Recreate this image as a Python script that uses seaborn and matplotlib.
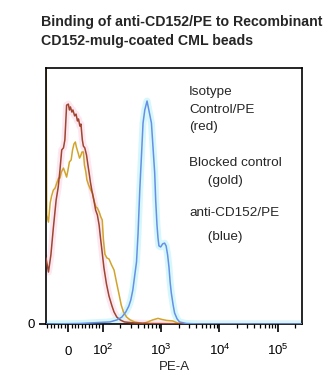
import matplotlib
matplotlib.use("Agg")
import matplotlib.pyplot as plt
import seaborn as sns
import pandas as pd
from matplotlib.ticker import FixedLocator, FixedFormatter

# ---------------- data (PE-A value, % of max) ----------------
red_x = [-63, -56, -49, -42, -34, -28, -23, -18, -13, -9, -4, 1, 4, 7, 11, 14, 19, 23, 27, 30,
         34, 37, 41, 44, 48, 53, 57, 60, 64, 69, 74, 79, 84, 89, 93, 97, 104, 115, 127, 143,
         155, 173, 198, 234, 352, 636, 4550, 262144]
red_y = [25.8, 20.3, 27.0, 37.5, 48.4, 53.5, 60.2, 68.0, 68.8, 71.9, 85.5, 85.9, 83.6, 84.8, 82.8,
         83.6, 81.3, 82.0, 79.3, 80.1, 77.3, 78.1, 71.9, 69.5, 68.8, 66.0, 62.1, 59.4, 55.5, 51.6,
         48.4, 44.5, 42.6, 38.7, 33.6, 28.9, 21.9, 15.6, 10.9, 7.0, 4.7, 2.7, 1.6, 0.8, 0.4, 0.2,
         0.0, 0.0]

gold_x = [-63, -61, -56, -51, -47, -42, -37, -32, -27, -23, -19, -13, -9, -4, 0, 4, 9, 13, 17, 21,
          24, 29, 33, 36, 40, 44, 47, 51, 54, 59, 65, 70, 74, 80, 84, 89, 94, 98, 102, 108,
          117, 127, 141, 155, 172, 187, 206, 225, 255, 293, 350, 482, 587, 715, 882, 1020,
          1242, 1574, 1916, 2522, 262144]
gold_y = [120.0, 42.6, 39.8, 47.3, 50.0, 52.3, 53.1, 55.1, 57.0, 57.0, 59.4, 60.9, 59.4, 57.4, 60.2,
          63.3, 64.1, 68.0, 70.3, 71.1, 69.1, 66.8, 64.8, 65.6, 67.2, 67.2, 62.1, 59.4, 56.3, 54.3,
          52.3, 51.2, 48.4, 45.7, 45.3, 43.8, 41.8, 40.6, 32.8, 27.3, 25.8, 25.4, 23.0, 21.1, 16.0,
          12.1, 7.4, 4.7, 2.7, 1.6, 0.8, 0.2, 0.8, 1.6, 2.2, 1.8, 1.4, 1.2, 0.4, 0.0, 0.0]

blue_x = [-63, 34, 91, 131, 174, 211, 247, 278, 301, 326, 352, 377, 401, 429, 455, 488, 523, 572,
          624, 680, 729, 774, 805, 847, 882, 916, 980, 1061, 1146, 1216, 1290, 1360, 1425, 1493,
          1605, 1700, 1877, 2070, 2697, 4550, 262144]
blue_y = [0.0, 0.2, 0.6, 0.8, 1.6, 2.7, 4.7, 7.0, 9.4, 13.3, 19.1, 24.2, 35.5, 52.3, 64.1, 78.5,
          83.6, 87.1, 82.8, 78.5, 68.0, 59.0, 48.4, 38.7, 33.6, 30.5, 30.1, 31.3, 31.6, 30.5, 27.0,
          22.3, 16.4, 12.1, 7.4, 4.3, 2.0, 0.8, 0.2, 0.0, 0.0]

xtick_values = [0, 100, 1000, 10000, 100000]
xtick_labels = ["0", r"$\mathregular{10^2}$", r"$\mathregular{10^3}$",
                r"$\mathregular{10^4}$", r"$\mathregular{10^5}$"]
xminor_values = [-60, -50, -40, -30, -20, -10, 10, 20, 30, 40, 50, 60, 70, 80, 90,
                 200, 300, 400, 500, 600, 700, 800, 900,
                 2000, 3000, 4000, 5000, 6000, 7000, 8000, 9000,
                 20000, 30000, 40000, 50000, 60000, 70000, 80000, 90000, 200000]

title_lines = ["Binding of anti-CD152/PE to Recombinant", "CD152-muIg-coated CML beads"]
legend_lines = ["Isotype", "Control/PE", "(red)", "Blocked control", "     (gold)",
                "anti-CD152/PE", "     (blue)"]
xlabel = "PE-A"

# ---------------- style ----------------
sns.set_style("white")
plt.rcParams["font.family"] = ["Liberation Sans", "DejaVu Sans"]
plt.rcParams["mathtext.fontset"] = "custom"
plt.rcParams["mathtext.rm"] = "Liberation Sans"
plt.rcParams["mathtext.it"] = "Liberation Sans"
plt.rcParams["mathtext.bf"] = "Liberation Sans:bold"

W, H = 330, 376
fig = plt.figure(figsize=(W / 100, H / 100), dpi=100)
ax = fig.add_axes([46 / W, 1 - 324 / H, 256 / W, 256 / H])

red_df = pd.DataFrame({"x": red_x, "y": red_y})
gold_df = pd.DataFrame({"x": gold_x, "y": gold_y})
blue_df = pd.DataFrame({"x": blue_x, "y": blue_y})

# glows
sns.lineplot(data=red_df, x="x", y="y", ax=ax, color="#fde8f1", lw=5, sort=False,
             estimator=None, zorder=1)
sns.lineplot(data=blue_df, x="x", y="y", ax=ax, color="#d6f7fc", lw=5, sort=False,
             estimator=None, zorder=1)
# lines
sns.lineplot(data=red_df, x="x", y="y", ax=ax, color="#9e4630", lw=1.1, sort=False,
             estimator=None, zorder=3)
sns.lineplot(data=gold_df, x="x", y="y", ax=ax, color="#d2a42c", lw=1.1, sort=False,
             estimator=None, zorder=2)
sns.lineplot(data=blue_df, x="x", y="y", ax=ax, color="#6690e4", lw=1.1, sort=False,
             estimator=None, zorder=4)

ax.set_xscale("symlog", linthresh=100, linscale=0.54)
ax.set_xlim(-63, 262144)
ax.set_ylim(0, 100)

ax.xaxis.set_major_locator(FixedLocator(xtick_values))
ax.xaxis.set_major_formatter(FixedFormatter(xtick_labels))
ax.xaxis.set_minor_locator(FixedLocator(xminor_values))
ax.set_yticks([0])
ax.set_yticklabels(["0"])

ax.tick_params(axis="x", which="both", bottom=True, top=False)
ax.tick_params(axis="y", which="both", left=True, right=False)
ax.tick_params(axis="x", which="major", direction="out", length=6, width=1.2,
               labelsize=9.5, pad=16, colors="black")
ax.tick_params(axis="x", which="minor", direction="out", length=3, width=0.9, colors="black")
ax.tick_params(axis="y", which="major", direction="out", length=5, width=1.2,
               labelsize=9.5, pad=3, colors="black")
for t in ax.xaxis.get_major_ticks():
    t.label1.set_va("baseline")

ax.set_xlabel(xlabel, fontsize=9.5, labelpad=2.5)
ax.set_ylabel("")

for s in ax.spines.values():
    s.set_visible(True)
    s.set_color("black")
    s.set_linewidth(1.2)

# title
fig.text(41 / W, 1 - 22 / H, title_lines[0], fontsize=10.2, fontweight="bold",
         ha="left", va="center")
fig.text(41 / W, 1 - 41 / H, title_lines[1], fontsize=10.2, fontweight="bold",
         ha="left", va="center")

# legend-like annotations
leg_y = [92, 110, 127, 163, 181, 213, 237]
for txt, y in zip(legend_lines, leg_y):
    fig.text(189 / W, 1 - y / H, txt, fontsize=9.7, ha="left", va="center")

fig.savefig("out.png", dpi=100)
